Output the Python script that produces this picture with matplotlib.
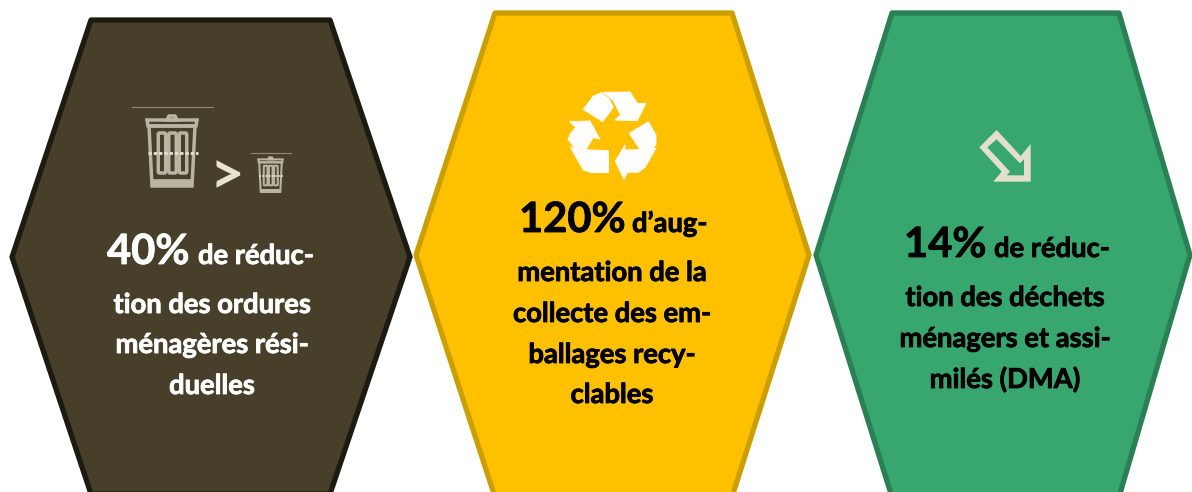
import matplotlib
matplotlib.use("Agg")
import matplotlib.pyplot as plt
import matplotlib.patheffects as pe
from matplotlib.patches import Polygon, FancyBboxPatch

plt.rcParams['font.family'] = ['Lato', 'DejaVu Sans']

# content of the three hexagons
percents = ['40%', '120%', '14%']
first_words = ['de réduc-', 'd’aug-', 'de réduc-']
other_lines = [
    ['tion des ordures', 'ménagères rési-', 'duelles'],
    ['mentation de la', 'collecte des em-', 'ballages recy-', 'clables'],
    ['tion des déchets', 'ménagers et assi-', 'milés (DMA)'],
]
fills = ['#473F2A', '#FFC000', '#37A76F']
edges = ['#1D1A10', '#CC9F00', '#2A7F54']
text_colors = ['white', 'black', 'black']

# x left, x top left, x top right, x right, y top, y middle
hex_shape = [
    (12, 91, 330, 410, 20, 257),
    (416, 495, 732, 809, 13, 255),
    (816, 892, 1119, 1190, 13, 255),
]
# x of the big number, x of the small words, baseline of that line
big_x = [107, 519, 904]
small_x = [198, 632, 994]
first_base = [264, 232, 257]
# baselines of the following lines
line_base = [[313, 353, 394], [281, 322, 363, 403], [306, 347, 388]]
line_x = [212, 612, 1005]

fig = plt.figure(figsize=(11.92, 4.92), dpi=100)
ax = fig.add_axes([0, 0, 1, 1])
ax.set_xlim(0, 1192)
ax.set_ylim(492, 0)
ax.axis('off')

for i in range(3):
    x0, x1, x2, x3, yt, ym = hex_shape[i]
    ax.add_patch(Polygon([(x1, yt), (x2, yt), (x3, ym), (x2, 2*ym-yt), (x1, 2*ym-yt), (x0, ym)],
                         closed=True, fc=fills[i], ec=edges[i], lw=3.8, joinstyle='round'))

for i in range(3):
    heavy = [pe.withStroke(linewidth=0.6, foreground=text_colors[i])]
    ax.text(big_x[i], first_base[i], percents[i], fontsize=30, fontweight='bold',
            color=text_colors[i], va='baseline', ha='left', path_effects=heavy)
    ax.text(small_x[i], first_base[i], first_words[i], fontsize=19.7, fontweight='bold',
            color=text_colors[i], va='baseline', ha='left', path_effects=heavy)
    for txt, ly in zip(other_lines[i], line_base[i]):
        ax.text(line_x[i], ly, txt, fontsize=19.7, fontweight='bold', color=text_colors[i],
                va='baseline', ha='center', path_effects=heavy)


def trash(cx, top, s, col='#B9B5A2'):
    # bin icon, drawn around its centre line, s = scale
    ax.plot([cx-40*s, cx+41*s], [top, top], color='#8F8A76', lw=0.8)
    def pt(dx, dy):
        return (cx + dx*s, top + dy*s)
    lw = 2.0*s + 0.5
    ax.add_patch(Polygon([pt(-5, 13), pt(-3, 9), pt(3, 9), pt(5, 13)],
                         closed=True, fc='none', ec=col, lw=lw))
    ax.add_patch(Polygon([pt(-25, 13), pt(25, 13), pt(24, 19), pt(-24, 19)],
                         closed=True, fc='none', ec=col, lw=lw))
    ax.add_patch(Polygon([pt(-23, 19), pt(23, 19), pt(20, 79), pt(-20, 79)],
                         closed=True, fc='none', ec=col, lw=lw))
    ax.add_patch(Polygon([pt(-20, 73), pt(20, 73), pt(20, 79), pt(-20, 79)],
                         closed=True, fc=col, ec=col, lw=lw*0.5))
    for dx in (-10, 0.5, 11):
        w = 7.5*s
        ax.add_patch(FancyBboxPatch((cx+dx*s-w/2, top+26*s), w, 40*s,
                                    boxstyle='round,pad=0,rounding_size=%f' % (1.5*s),
                                    fc='none', ec=col, lw=lw))
    ax.plot([cx-24*s, cx+26*s], [top+46*s, top+46*s], color='#E6E3D6', lw=1.6*s+0.4,
            linestyle=(0, (1.2, 0.7)))


trash(172, 107, 1.0)
trash(270.5, 153, 0.49)
ax.text(226.5, 177, '>', fontsize=43, fontweight='bold', color='#E8E3D0', ha='center', va='center')

# recycling symbol, traced in a 3x zoom of its area
def rec(points):
    return [(550 + a/3, 80 + b/3) for a, b in points]

recycle_pieces = [
    [(160, 37), (240, 36), (262, 70), (288, 70), (262, 122), (195, 120), (212, 104), (190, 62)],
    [(100, 88), (130, 48), (155, 38), (178, 58), (190, 82), (158, 125)],
    [(58, 125), (120, 123), (150, 178), (130, 172), (108, 208), (75, 205), (54, 178), (62, 160), (78, 142)],
    [(60, 200), (82, 208), (175, 212), (176, 278), (125, 278), (100, 270)],
    [(225, 195), (225, 210), (295, 208), (318, 205), (285, 262), (265, 277), (232, 277), (222, 298), (196, 243)],
    [(238, 160), (295, 125), (318, 165), (318, 195), (305, 208), (270, 208)],
]
for piece in recycle_pieces:
    ax.add_patch(Polygon(rec(piece), closed=True, fc='white', ec='white', lw=0.6))

# arrow pointing down right
def arr(points):
    return [(960 + a/3, 120 + b/3) for a, b in points]

ax.add_patch(Polygon(arr([(110, 30), (182, 108), (212, 72), (212, 185), (100, 185), (125, 155), (58, 82)]),
                     closed=True, fc='#E4DFCD', ec='none'))
ax.add_patch(Polygon(arr([(110, 58), (82, 82), (150, 155), (140, 166), (192, 166), (192, 118), (180, 130)]),
                     closed=True, fc=fills[2], ec='none'))

fig.savefig('out.png', dpi=100)
